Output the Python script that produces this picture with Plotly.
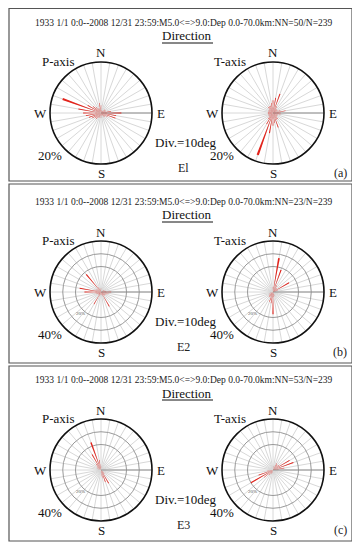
import plotly.graph_objects as go

# the page body has an 8px margin: the figure covers reference pixels 8..360 x 8..549
ORG = 8
W, H = 352, 541
RED = "#e3231b"
SERIF = "Liberation Serif, Times New Roman, serif"

# 10-degree direction bins (azimuth, clockwise from North)
DIRS = [0, 10, 20, 30, 40, 50, 60, 70, 80, 90, 100, 110, 120, 130, 140, 150, 160, 170,
        180, 190, 200, 210, 220, 230, 240, 250, 260, 270, 280, 290, 300, 310, 320, 330, 340, 350]

# percentages per bin
E1_P = [3, 1, 1, 1, 1, 2, 2, 2, 4, 8, 6, 6, 3, 2, 2, 1, 1, 1,
        2, 1, 2, 2, 3, 3, 4, 5, 6, 7, 9, 16, 6, 4, 3, 2, 2, 4]
E1_T = [5, 6, 8, 3, 2, 2, 2, 3, 5, 3, 3, 2, 2, 2, 3, 3, 6, 4,
        5, 8, 17.5, 5, 3, 2, 2, 2, 2, 2, 2, 2, 2, 2, 3, 3, 3, 4]
E2_P = [3, 0, 0, 0, 0, 0, 3, 0, 4, 8, 6, 5, 4, 4, 3, 13, 3, 0,
        2, 0, 3, 11, 3, 2, 3, 4, 5, 13, 17, 5, 4, 3, 18, 4, 2, 0]
E2_T = [4, 27, 18.5, 6, 4, 4, 14.5, 4, 0, 0, 0, 0, 0, 0, 0, 0, 3, 4,
        17.5, 9, 8, 4, 5, 4, 0, 3, 0, 0, 0, 0, 0, 0, 0, 0, 0, 0]
E3_P = [3, 0, 0, 0, 0, 0, 0, 0, 0, 0, 0, 0, 0, 3, 4, 12, 10, 6,
        2, 0, 0, 0, 0, 0, 0, 0, 0, 3, 0, 3, 0, 4, 6, 14, 23, 8]
E3_T = [0, 3, 0, 6, 5, 6, 15, 17, 9, 0, 0, 0, 0, 0, 0, 0, 0, 0,
        0, 0, 3, 3, 5, 9, 20, 12, 5, 0, 0, 0, 0, 0, 0, 0, 0, 0]

HEADERS = ["1933 1/1 0:0--2008 12/31 23:59:M5.0<=>9.0:Dep 0.0-70.0km:NN=50/N=239",
           "1933 1/1 0:0--2008 12/31 23:59:M5.0<=>9.0:Dep 0.0-70.0km:NN=23/N=239",
           "1933 1/1 0:0--2008 12/31 23:59:M5.0<=>9.0:Dep 0.0-70.0km:NN=53/N=239"]
ZONES = ["El", "E2", "E3"]
TAGS = ["(a)", "(b)", "(c)"]
SCALE_MAX = [20, 40, 40]
SCALE_LBL = ["20%", "40%", "40%"]

series = [(E1_P, E1_T), (E2_P, E2_T), (E3_P, E3_T)]

def px(x):
    return (x - ORG) / W

def py(y):
    return 1 - (y - ORG) / H

R = 51
CX = [101, 273]
OFF = [0, 179, 357]
BOX = [(8.5, 181), (184, 363), (366, 541)]

fig = go.Figure()
layout = {}
annotations = []
shapes = []
k = 0
for i in range(3):
    off = OFF[i]
    cy = 113 + off
    for j in range(2):
        k += 1
        name = "polar" if k == 1 else f"polar{k}"
        fig.add_trace(go.Barpolar(
            r=series[i][j], theta=DIRS, width=[3] * len(DIRS),
            marker=dict(color=RED, line=dict(width=0)),
            subplot=name, showlegend=False, hoverinfo="skip"))
        rings = [] if i == 0 else [20, 30]
        layout[name] = dict(
            domain=dict(x=[px(CX[j] - R), px(CX[j] + R)], y=[py(cy + R), py(cy - R)]),
            bgcolor="white",
            angularaxis=dict(direction="clockwise", rotation=90, dtick=10,
                             showticklabels=False, ticks="", gridcolor="#d8d8d8",
                             gridwidth=1, showline=True, linecolor="#111", linewidth=1.6),
            radialaxis=dict(range=[0, SCALE_MAX[i]], showticklabels=False, ticks="",
                            showline=True, linecolor="#909090", linewidth=1, angle=0,
                            layer="below traces", tickvals=rings if rings else [SCALE_MAX[i]],
                            showgrid=bool(rings), gridcolor="#999999", gridwidth=1),
        )
        cx = CX[j]
        for txt, (dx, dy) in zip(["N", "S", "W", "E"], [(0, -60), (0, 60), (-61, 0), (60, 0)]):
            annotations.append(dict(text=txt, x=px(cx + dx), y=py(cy + dy)))
        annotations.append(dict(text="P-axis" if j == 0 else "T-axis",
                                x=px(cx - 43), y=py(61 + off)))
        annotations.append(dict(text=SCALE_LBL[i], x=px(cx - 51), y=py(155 + off)))
        if i > 0:
            annotations.append(dict(text="20%", x=px(cx - 21), y=py(cy + 21),
                                    font=dict(size=5, color="#555", family=SERIF)))
    annotations.append(dict(text=HEADERS[i], x=px(184), y=py(23 + off),
                            font=dict(size=9.5, color="#222", family=SERIF)))
    annotations.append(dict(text="Direction", x=px(187), y=py(36 + off),
                            font=dict(size=13, color="#111", family=SERIF)))
    shapes.append(dict(type="line", xref="paper", yref="paper",
                       x0=px(162), x1=px(213), y0=py(43 + off), y1=py(43 + off),
                       line=dict(color="#111", width=1)))
    annotations.append(dict(text="Div.=10deg", x=px(186), y=py(142 + off)))
    annotations.append(dict(text=ZONES[i], x=px(183), y=py(168 + off),
                            font=dict(size=12, color="#222", family=SERIF)))
    annotations.append(dict(text=TAGS[i], x=px(340), y=py(173 + off),
                            font=dict(size=12, color="#222", family=SERIF)))
    y0, y1 = BOX[i]
    shapes.append(dict(type="rect", xref="paper", yref="paper",
                       x0=px(9), x1=px(352), y0=py(y1), y1=py(y0),
                       line=dict(color="#555", width=1.2)))

for a in annotations:
    a.setdefault("font", dict(size=13, color="#111", family=SERIF))
    a.update(xref="paper", yref="paper", showarrow=False, xanchor="center", yanchor="middle")

fig.update_layout(width=W, height=H, autosize=False, margin=dict(l=0, r=0, t=0, b=0),
                  paper_bgcolor="white", plot_bgcolor="white",
                  annotations=annotations, shapes=shapes, **layout)

fig.write_html("out.html")
